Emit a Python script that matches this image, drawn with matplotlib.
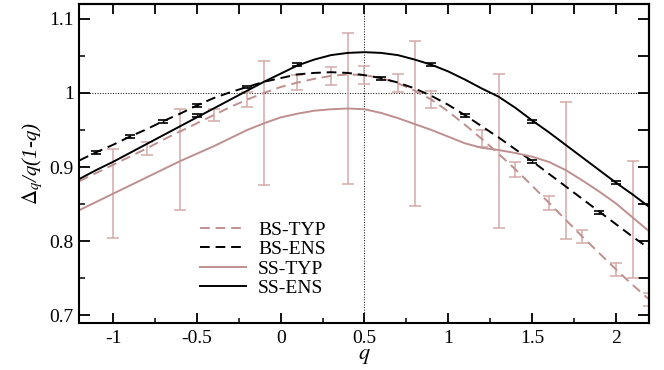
import numpy as np
import matplotlib
matplotlib.use("Agg")
import matplotlib.pyplot as plt
from matplotlib.ticker import MultipleLocator

plt.rcParams['font.family'] = ['Liberation Serif', 'DejaVu Serif']
plt.rcParams['mathtext.fontset'] = 'stix'

# curves
q = [-1.2, -1.1, -1.0, -0.9, -0.8, -0.7, -0.6, -0.5, -0.4, -0.3, -0.2, -0.1, 0.0,
     0.1, 0.2, 0.3, 0.4, 0.5, 0.6, 0.7, 0.8, 0.9, 1.0, 1.1, 1.2, 1.3, 1.4, 1.5,
     1.6, 1.7, 1.8, 1.9, 2.0, 2.1, 2.2]
bs_typ = [0.881, 0.892, 0.903, 0.914, 0.925, 0.937, 0.948, 0.959, 0.970, 0.981, 0.991, 1.000, 1.008,
          1.014, 1.019, 1.023, 1.025, 1.024, 1.020, 1.013, 1.003, 0.991, 0.975, 0.957, 0.938, 0.918,
          0.897, 0.875, 0.852, 0.829, 0.806, 0.784, 0.762, 0.741, 0.721]
bs_ens = [0.909, 0.920, 0.930, 0.941, 0.951, 0.962, 0.972, 0.983, 0.993, 1.001, 1.008, 1.015, 1.020,
          1.025, 1.027, 1.028, 1.027, 1.024, 1.020, 1.014, 1.006, 0.996, 0.984, 0.970, 0.955, 0.940,
          0.924, 0.908, 0.891, 0.874, 0.857, 0.840, 0.823, 0.806, 0.790]
ss_typ = [0.842, 0.853, 0.864, 0.875, 0.886, 0.897, 0.908, 0.918, 0.928, 0.939, 0.950, 0.959, 0.967,
          0.972, 0.976, 0.978, 0.979, 0.978, 0.973, 0.966, 0.958, 0.950, 0.941, 0.932, 0.926, 0.923,
          0.919, 0.914, 0.907, 0.896, 0.882, 0.867, 0.851, 0.832, 0.813]
ss_ens = [0.884, 0.896, 0.907, 0.919, 0.931, 0.943, 0.955, 0.967, 0.979, 0.991, 1.003, 1.015, 1.026,
          1.037, 1.045, 1.051, 1.054, 1.055, 1.054, 1.051, 1.045, 1.038, 1.029, 1.018, 1.006, 0.995,
          0.980, 0.963, 0.947, 0.930, 0.913, 0.896, 0.879, 0.863, 0.846]

# error bars
bs_typ_q = [-0.8, -0.4, -0.2, 0.1, 0.3, 0.5, 0.7, 0.9, 1.2, 1.4, 1.6, 1.8, 2.0, 2.2]
bs_typ_v = [0.925, 0.970, 0.991, 1.014, 1.023, 1.024, 1.013, 0.991, 0.938, 0.897, 0.852, 0.806, 0.762, 0.721]
bs_typ_e = [0.0085, 0.0085, 0.010, 0.0105, 0.012, 0.012, 0.012, 0.0115, 0.0115, 0.010, 0.0095, 0.0085, 0.0085, 0.0085]

bs_ens_q = [-1.1, -0.9, -0.7, -0.5, -0.2, 0.6, 1.1, 1.5, 1.9]
bs_ens_v = [0.920, 0.941, 0.962, 0.983, 1.008, 1.020, 0.970, 0.908, 0.839]
bs_ens_e = [0.002] * 9

ss_typ_q = [-1.0, -0.6, -0.1, 0.4, 0.8, 1.3, 1.7, 2.1]
ss_typ_v = [0.864, 0.910, 0.959, 0.979, 0.959, 0.922, 0.895, 0.829]
ss_typ_e = [0.060, 0.0685, 0.0835, 0.1025, 0.111, 0.104, 0.0925, 0.079]

ss_ens_q = [-0.5, 0.1, 0.9, 1.5, 2.0]
ss_ens_v = [0.970, 1.038, 1.039, 0.962, 0.879]
ss_ens_e = [0.002] * 5

xticks = [-1, -0.5, 0, 0.5, 1, 1.5, 2]
xlabels = ['-1', '-0.5', '0', '0.5', '1', '1.5', '2']
yticks = [0.7, 0.8, 0.9, 1.0, 1.1]
ylabels = ['0.7', '0.8', '0.9', '1', '1.1']

pink = '#bf8f8f'
pink_err = '#d4aaaa'

fig = plt.figure(figsize=(6.64, 3.70), dpi=100)
ax = fig.add_axes([0.1197, 0.1278, 0.8583, 0.8614])

ax.axhline(1.0, color='k', ls=':', lw=0.7)
ax.axvline(0.5, color='k', ls=':', lw=0.7)

ax.errorbar(ss_typ_q, ss_typ_v, yerr=ss_typ_e, fmt='none', ecolor=pink_err, elinewidth=1.1,
            capsize=4.5, capthick=1.1)
ax.errorbar(bs_typ_q, bs_typ_v, yerr=bs_typ_e, fmt='none', ecolor=pink_err, elinewidth=1.1,
            capsize=4.5, capthick=1.1)

ax.plot(q, bs_typ, color=pink, lw=1.4, dashes=(5, 3), label='BS-TYP')
ax.plot(q, bs_ens, color='k', lw=1.4, dashes=(5, 3), label='BS-ENS')
ax.plot(q, ss_typ, color=pink, lw=1.4, label='SS-TYP')
ax.plot(q, ss_ens, color='k', lw=1.4, label='SS-ENS')

ax.errorbar(bs_ens_q, bs_ens_v, yerr=bs_ens_e, fmt='none', ecolor='k', elinewidth=1.0,
            capsize=3.5, capthick=1.2)
ax.errorbar(ss_ens_q, ss_ens_v, yerr=ss_ens_e, fmt='none', ecolor='k', elinewidth=1.0,
            capsize=3.5, capthick=1.2)

ax.set_xlim(-1.2, 2.2)
ax.set_ylim(0.69, 1.12)
ax.set_xticks(xticks)
ax.set_xticklabels(xlabels)
ax.set_yticks(yticks)
ax.set_yticklabels(ylabels)
ax.xaxis.set_minor_locator(MultipleLocator(0.25))
ax.yaxis.set_minor_locator(MultipleLocator(0.05))
ax.tick_params(axis='x', which='major', direction='in', length=7.5, width=1.3, labelsize=14, pad=5)
ax.tick_params(axis='x', which='minor', direction='in', length=3.8, width=1.1)
ax.tick_params(axis='y', which='major', direction='in', length=8, width=1.3, labelsize=14, pad=4)
ax.tick_params(axis='y', which='minor', direction='in', length=4.3, width=1.1)
for s in ax.spines.values():
    s.set_linewidth(1.5)

# top and right ticks, all the same length
top = ax.secondary_xaxis('top')
top.set_xticks(np.arange(-1, 2.01, 0.25))
top.tick_params(direction='in', length=7.5, width=1.3, labeltop=False)
right = ax.secondary_yaxis('right')
right.set_yticks(np.arange(0.7, 1.101, 0.05))
right.tick_params(direction='in', length=8, width=1.3, labelright=False)
top.spines['top'].set_linewidth(1.5)
right.spines['right'].set_linewidth(1.5)

ax.set_xlabel(r'$\mathit{q}$', fontsize=16, labelpad=0)
ax.set_ylabel(r'$\mathit{\Delta_q}$/$\mathit{q}$(1-$\mathit{q}$)', fontsize=15, style='italic', labelpad=3)

ax.legend(loc='lower left', bbox_to_anchor=(0.211, 0.08), frameon=False, fontsize=14,
          handlelength=2.4, handletextpad=0.6, labelspacing=0.1, borderpad=0, borderaxespad=0)

fig.savefig('out.png', dpi=100)
